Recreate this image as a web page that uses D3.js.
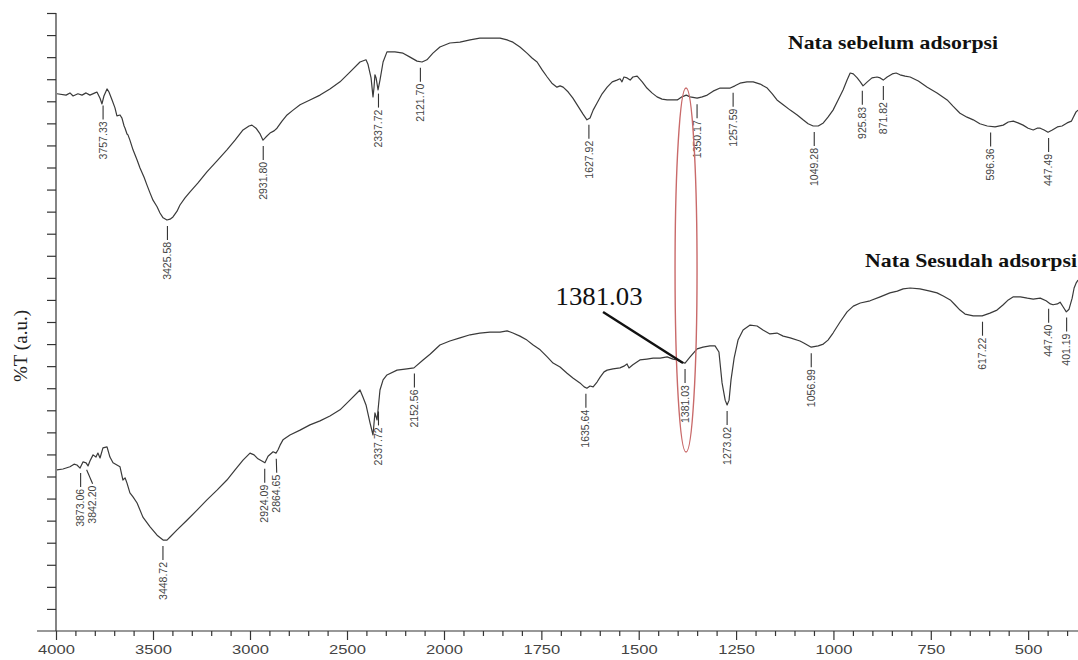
<!DOCTYPE html>
<html>
<head>
<meta charset="utf-8">
<script src="https://cdn.jsdelivr.net/npm/d3@7"></script>
<style>
  body { margin: 0; background: #fff; }
  svg { display: block; }
</style>
</head>
<body>
<svg width="1078" height="660"></svg>
<script>
// spectra: [wavenumber cm-1, %T (a.u.)]
var specBefore = [
  [3995,121.7],[3948,121.4],[3928,121.9],[3912,121.2],[3887,121.7],[3866,121.4],[3845,121.9],[3825,121.4],
  [3799,121.9],[3789,122.1],[3773,120.7],[3763,119.4],[3753,121.2],[3737,122.8],[3727,122.1],[3711,120.3],
  [3696,118.5],[3686,116.7],[3670,116.9],[3660,116.2],[3649,114.4],[3644,113.9],[3634,112.6],[3629,112.4],
  [3619,111.2],[3603,109.0],[3582,106.7],[3567,104.9],[3546,102.8],[3531,101.0],[3515,99.2],[3500,97.6],
  [3479,96.1],[3464,94.7],[3448,93.6],[3428,93.1],[3412,93.3],[3397,93.8],[3376,95.1],[3361,96.5],
  [3335,98.1],[3309,99.5],[3268,101.5],[3222,104.0],[3170,106.5],[3119,109.0],[3077,111.2],[3036,113.5],
  [3005,114.4],[2990,114.6],[2969,113.9],[2948,112.6],[2933,111.2],[2918,111.9],[2897,112.8],[2876,113.3],
  [2861,113.9],[2835,115.5],[2809,116.9],[2778,118.0],[2742,119.2],[2691,120.3],[2639,121.4],[2588,122.8],
  [2536,124.4],[2485,126.6],[2433,128.9],[2402,129.4],[2392,128.4],[2376,125.3],[2366,121.0],[2361,123.0],
  [2356,126.0],[2350,125.3],[2340,122.6],[2330,124.8],[2314,128.9],[2294,131.2],[2253,131.2],[2211,130.9],
  [2175,130.0],[2139,129.1],[2113,128.9],[2088,129.4],[2057,130.9],[2021,132.3],[1985,133.2],[1959,133.4],
  [1933,133.9],[1908,134.3],[1882,134.3],[1856,134.3],[1838,133.9],[1823,133.4],[1805,132.3],[1787,130.9],
  [1774,129.8],[1761,128.9],[1748,127.1],[1735,125.5],[1723,124.1],[1710,123.2],[1702,123.5],[1694,123.2],
  [1681,122.1],[1669,120.7],[1656,118.9],[1643,117.1],[1633,115.8],[1625,116.2],[1617,118.0],[1607,119.6],
  [1594,121.7],[1581,123.2],[1568,124.4],[1556,124.8],[1548,125.1],[1543,124.4],[1538,125.5],[1530,125.3],
  [1522,124.8],[1515,125.5],[1504,125.7],[1491,124.4],[1479,123.0],[1466,121.9],[1453,121.0],[1440,120.5],
  [1427,120.3],[1414,120.3],[1401,120.3],[1389,121.0],[1378,121.4],[1368,121.0],[1350,120.7],[1337,121.0],
  [1324,121.4],[1309,122.3],[1291,123.0],[1278,123.0],[1265,123.0],[1253,123.5],[1240,124.1],[1222,124.4],
  [1206,124.4],[1188,123.9],[1170,123.0],[1157,121.7],[1145,120.3],[1129,119.2],[1111,118.0],[1093,116.9],
  [1078,115.8],[1065,114.9],[1052,114.4],[1039,114.4],[1026,115.1],[1014,116.4],[1001,118.0],[988,120.3],
  [975,122.6],[965,124.8],[957,126.4],[949,126.2],[939,125.3],[931,124.4],[924,123.5],[913,124.4],
  [901,125.3],[888,125.5],[880,125.3],[872,124.8],[862,125.5],[849,126.2],[839,126.4],[829,126.0],
  [816,125.7],[803,125.5],[782,124.6],[759,123.2],[734,121.9],[708,120.3],[693,118.9],[675,117.3],
  [657,116.4],[641,115.8],[624,114.9],[605,114.4],[585,114.2],[564,114.6],[551,115.3],[538,115.5],
  [526,115.1],[513,114.6],[500,113.9],[487,113.5],[477,113.9],[469,113.9],[459,113.5],[449,113.0],
  [438,113.5],[425,114.2],[413,114.4],[400,115.1],[389,115.5],[384,116.4],[377,117.6],[372,118.0]
];

var specAfter = [
  [3995,36.5],[3964,36.7],[3928,37.2],[3907,37.8],[3892,37.6],[3876,36.9],[3861,38.3],[3845,38.1],
  [3835,37.4],[3825,38.5],[3809,39.9],[3794,39.4],[3784,40.3],[3773,39.2],[3758,41.5],[3737,41.7],
  [3722,39.4],[3706,38.1],[3686,37.6],[3670,37.2],[3655,34.2],[3644,34.7],[3634,33.5],[3619,31.3],
  [3603,30.4],[3582,29.0],[3552,25.8],[3515,23.6],[3479,21.7],[3448,20.6],[3428,20.6],[3412,21.3],
  [3376,22.9],[3325,25.1],[3273,27.4],[3222,29.7],[3170,31.9],[3119,34.2],[3077,36.5],[3036,38.7],
  [3000,40.3],[2979,39.9],[2959,39.0],[2923,38.1],[2907,39.6],[2881,40.6],[2866,40.3],[2856,41.0],
  [2845,42.1],[2830,43.3],[2794,44.4],[2742,45.5],[2691,46.7],[2639,47.6],[2588,48.7],[2536,50.1],
  [2485,52.3],[2433,54.6],[2418,53.0],[2402,51.2],[2381,47.1],[2366,44.4],[2356,49.4],[2345,47.8],
  [2330,54.6],[2314,56.9],[2294,58.0],[2242,59.1],[2191,59.4],[2155,59.6],[2108,61.4],[2072,62.7],
  [2021,64.8],[1985,65.7],[1959,66.4],[1933,67.1],[1908,67.5],[1882,67.7],[1856,67.7],[1838,68.0],
  [1823,67.5],[1805,66.8],[1787,65.9],[1771,64.8],[1753,63.7],[1735,62.1],[1720,60.7],[1702,59.8],
  [1684,58.4],[1669,57.3],[1651,56.2],[1640,55.3],[1633,55.0],[1625,55.5],[1617,55.3],[1607,56.4],
  [1599,57.5],[1589,58.7],[1581,59.1],[1566,59.4],[1548,59.6],[1538,60.0],[1530,60.5],[1525,59.6],
  [1515,60.3],[1497,61.4],[1479,61.6],[1463,61.8],[1445,61.8],[1427,62.1],[1412,61.6],[1401,61.4],
  [1391,60.9],[1381,60.7],[1368,62.1],[1350,63.9],[1335,64.3],[1317,64.6],[1304,64.6],[1294,63.2],
  [1286,56.2],[1278,52.3],[1273,51.2],[1268,52.3],[1263,56.9],[1255,61.8],[1245,65.9],[1232,68.2],
  [1214,69.3],[1196,69.1],[1181,68.2],[1163,67.3],[1145,67.5],[1129,66.8],[1111,66.4],[1086,65.7],
  [1075,65.2],[1057,64.3],[1039,64.6],[1026,65.0],[1014,65.9],[1001,67.5],[983,70.0],[965,72.3],
  [949,73.6],[931,74.3],[906,74.8],[880,75.7],[855,76.6],[836,77.0],[821,77.5],[803,77.7],
  [778,77.5],[752,77.0],[734,76.6],[718,75.9],[700,75.0],[688,73.9],[675,72.7],[662,71.8],
  [641,71.4],[618,71.4],[598,72.0],[580,72.7],[564,73.9],[551,75.0],[538,75.7],[520,75.7],
  [502,75.4],[487,75.2],[469,75.4],[454,74.8],[443,74.1],[436,73.9],[425,74.1],[418,74.5],
  [410,73.4],[402,72.3],[395,72.9],[387,75.4],[382,77.7],[377,78.8],[372,79.5]
];

// labelled peaks
var peaksBefore = [3757.33, 3425.58, 2931.80, 2337.72, 2121.70, 1627.92, 1350.17,
  1257.59, 1049.28, 925.83, 871.82, 596.36, 447.49];
var peaksAfter = [3873.06, 3842.20, 3448.72, 2924.09, 2864.65, 2337.72, 2152.56,
  1635.64, 1381.03, 1273.02, 1056.99, 617.22, 447.40, 401.19];

var seriesNames = ['Nata sebelum adsorpsi', 'Nata Sesudah adsorpsi'];
var highlightPeak = 1381.03;

var xTicks = [4000, 3500, 3000, 2500, 2000, 1750, 1500, 1250, 1000, 750, 500];
var yLabel = '%T (a.u.)';

var svg = d3.select('svg');

// the wavenumber axis changes scale at 2000 cm-1
var x = d3.scaleLinear().domain([4000, 2000, 372]).range([56, 444, 1078]);
var y = d3.scaleLinear().domain([0, 140]).range([631, 13]);

var minorTicks = d3.range(4000, 2000, -100).concat(d3.range(2000, 372, -50))
  .filter(function (d) { return xTicks.indexOf(d) < 0; });

var axisColor = '#333';

// x axis
var gxMinor = svg.append('g')
  .attr('transform', 'translate(0,631)')
  .call(d3.axisBottom(x).tickValues(minorTicks).tickSize(5).tickFormat(''));
gxMinor.select('.domain').remove();

var gx = svg.append('g')
  .attr('transform', 'translate(0,631)')
  .call(d3.axisBottom(x).tickValues(xTicks).tickSize(9).tickPadding(5)
    .tickFormat(function (d) { return String(d); }));
gx.select('.domain').remove();
gx.selectAll('text')
  .style('font-family', 'Liberation Sans, Arial, sans-serif')
  .style('font-size', '13px')
  .attr('fill', '#444')
  .attr('textLength', function (d) { return String(d).length * 9.2; })
  .attr('lengthAdjust', 'spacingAndGlyphs');

svg.append('line')
  .attr('x1', 37).attr('x2', 1078)
  .attr('y1', 631).attr('y2', 631);

// y axis (no labels, a.u.)
var gy = svg.append('g')
  .attr('transform', 'translate(56,0)')
  .call(d3.axisLeft(y).tickValues(d3.range(5, 141, 5)).tickSize(9).tickFormat(''));
gy.select('.domain').remove();

svg.append('line')
  .attr('x1', 56).attr('x2', 56)
  .attr('y1', 13).attr('y2', 631);

svg.selectAll('line, .tick line')
  .attr('stroke', axisColor)
  .attr('stroke-width', 1.2);

svg.append('text')
  .attr('transform', 'translate(27,346) rotate(-90)')
  .attr('text-anchor', 'middle')
  .style('font-family', 'Liberation Serif, Times New Roman, serif')
  .style('font-size', '19px')
  .attr('fill', '#222')
  .text(yLabel);

// spectra
var line = d3.line()
  .x(function (d) { return x(d[0]); })
  .y(function (d) { return y(d[1]); });

[specBefore, specAfter].forEach(function (spec) {
  svg.append('path')
    .datum(spec)
    .attr('d', line)
    .attr('fill', 'none')
    .attr('stroke', '#3a3a3a')
    .attr('stroke-width', 1.2)
    .attr('stroke-linejoin', 'round');
});

// value of a spectrum at a wavenumber (data sorted high -> low)
function valueAt(spec, wn) {
  var i = d3.bisector(function (d) { return -d[0]; }).left(spec, -wn);
  if (i <= 0) return spec[0][1];
  if (i >= spec.length) return spec[spec.length - 1][1];
  var a = spec[i - 1], b = spec[i];
  var t = (a[0] - wn) / (a[0] - b[0]);
  return a[1] + t * (b[1] - a[1]);
}

function drawPeaks(spec, peaks) {
  var items = peaks.map(function (p) {
    return { wn: p, px: x(p), py: y(valueAt(spec, p)) };
  });
  items.sort(function (a, b) { return a.px - b.px; });
  // keep neighbouring labels apart
  items.forEach(function (d, i) {
    d.lx = d.px;
    if (i > 0 && d.lx - items[i - 1].lx < 12) d.lx = items[i - 1].lx + 12;
  });

  var g = svg.append('g');
  g.selectAll('line')
    .data(items)
    .enter().append('line')
    .attr('x1', function (d) { return d.px; })
    .attr('y1', function (d) { return d.py + 6; })
    .attr('x2', function (d) { return d.lx; })
    .attr('y2', function (d) { return d.py + 20; })
    .attr('stroke', '#333')
    .attr('stroke-width', 1.1);

  g.selectAll('text')
    .data(items)
    .enter().append('text')
    .attr('transform', function (d) {
      return 'translate(' + (d.lx + 3.6) + ',' + (d.py + 22) + ') rotate(-90)';
    })
    .attr('text-anchor', 'end')
    .style('font-family', 'Liberation Sans, Arial, sans-serif')
    .style('font-size', '10.5px')
    .attr('fill', '#444')
    .text(function (d) { return d.wn.toFixed(2); });
}

drawPeaks(specBefore, peaksBefore);
drawPeaks(specAfter, peaksAfter);

// series titles
var titlePos = [[788, 49, 210], [865, 267, 212]];
svg.selectAll('.title')
  .data(seriesNames)
  .enter().append('text')
  .attr('class', 'title')
  .attr('x', function (d, i) { return titlePos[i][0]; })
  .attr('y', function (d, i) { return titlePos[i][1]; })
  .attr('textLength', function (d, i) { return titlePos[i][2]; })
  .attr('lengthAdjust', 'spacingAndGlyphs')
  .style('font-family', 'Liberation Serif, Times New Roman, serif')
  .style('font-size', '19px')
  .style('font-weight', 'bold')
  .attr('fill', '#111')
  .text(function (d) { return d; });

// highlighted band
var hx = x(highlightPeak), hy = y(valueAt(specAfter, highlightPeak));

svg.append('ellipse')
  .attr('cx', hx + 1)
  .attr('cy', 270)
  .attr('rx', 11)
  .attr('ry', 182)
  .attr('fill', 'none')
  .attr('stroke', '#c96a6a')
  .attr('stroke-width', 1.4);

svg.append('line')
  .attr('x1', hx - 82).attr('y1', hy - 51)
  .attr('x2', hx - 2).attr('y2', hy)
  .attr('stroke', '#111')
  .attr('stroke-width', 2.4);

svg.append('text')
  .attr('x', hx - 86)
  .attr('y', hy - 58)
  .attr('text-anchor', 'middle')
  .attr('textLength', 87)
  .attr('lengthAdjust', 'spacingAndGlyphs')
  .style('font-family', 'Liberation Serif, Times New Roman, serif')
  .style('font-size', '25px')
  .attr('fill', '#111')
  .text(highlightPeak.toFixed(2));
</script>
</body>
</html>
